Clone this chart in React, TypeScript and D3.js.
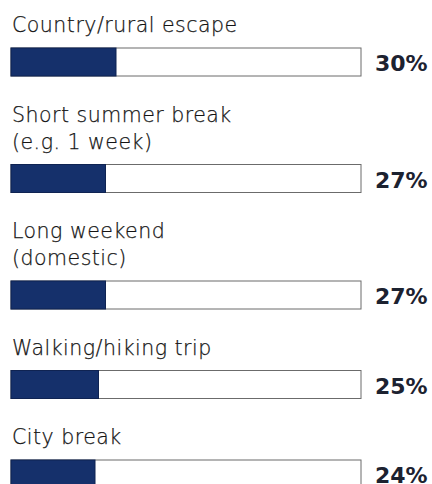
import React from 'react';
import * as d3 from 'd3';

// holiday types and share of respondents (%)
const categories = [
  ['Country/rural escape'],
  ['Short summer break', '(e.g. 1 week)'],
  ['Long weekend', '(domestic)'],
  ['Walking/hiking trip'],
  ['City break'],
];
const values = [30, 27, 27, 25, 24];
const valueLabels = ['30%', '27%', '27%', '25%', '24%'];

const width = 432;
const height = 484;
const lineHeight = 27;
const barOffset = 16;
const barHeight = 28;
const gap = 45.5;

export default function App() {
  const x = d3.scaleLinear().domain([0, 100]).range([11, 361]);

  // stack each label block and bar down the page
  let baseline = 32;
  const rows = categories.map((lines, i) => {
    const baselines = lines.map((_, j) => baseline + j * lineHeight);
    const barY = baselines[baselines.length - 1] + barOffset;
    baseline = barY + barHeight + gap;
    return { lines, baselines, barY, value: values[i], label: valueLabels[i] };
  });

  return (
    <svg
      width={width}
      height={height}
      style={{ position: 'absolute', left: 0, top: 0, background: '#fff' }}
    >
      {rows.map((r, i) => (
        <g key={i}>
          {r.lines.map((t, j) => (
            <text
              key={j}
              x={12}
              y={r.baselines[j]}
              fontFamily="'DejaVu Sans', sans-serif"
              fontWeight={200}
              fontSize={20.5}
              letterSpacing={0.5}
              fill="#141414"
              stroke="#141414"
              strokeWidth={0.25}
            >
              {t}
            </text>
          ))}
          <rect
            x={x(0)}
            y={r.barY}
            width={x(100) - x(0)}
            height={barHeight}
            fill="#fff"
            stroke="#6b6b6b"
            strokeWidth={1}
          />
          <rect
            x={x(0)}
            y={r.barY}
            width={x(r.value) - x(0)}
            height={barHeight}
            fill="#15306b"
            stroke="#0f2352"
            strokeWidth={1}
          />
          <text
            x={375}
            y={r.barY + 23}
            fontFamily="'DejaVu Sans', sans-serif"
            fontWeight={700}
            fontSize={22}
            fill="#1c2230"
          >
            {r.label}
          </text>
        </g>
      ))}
    </svg>
  );
}
